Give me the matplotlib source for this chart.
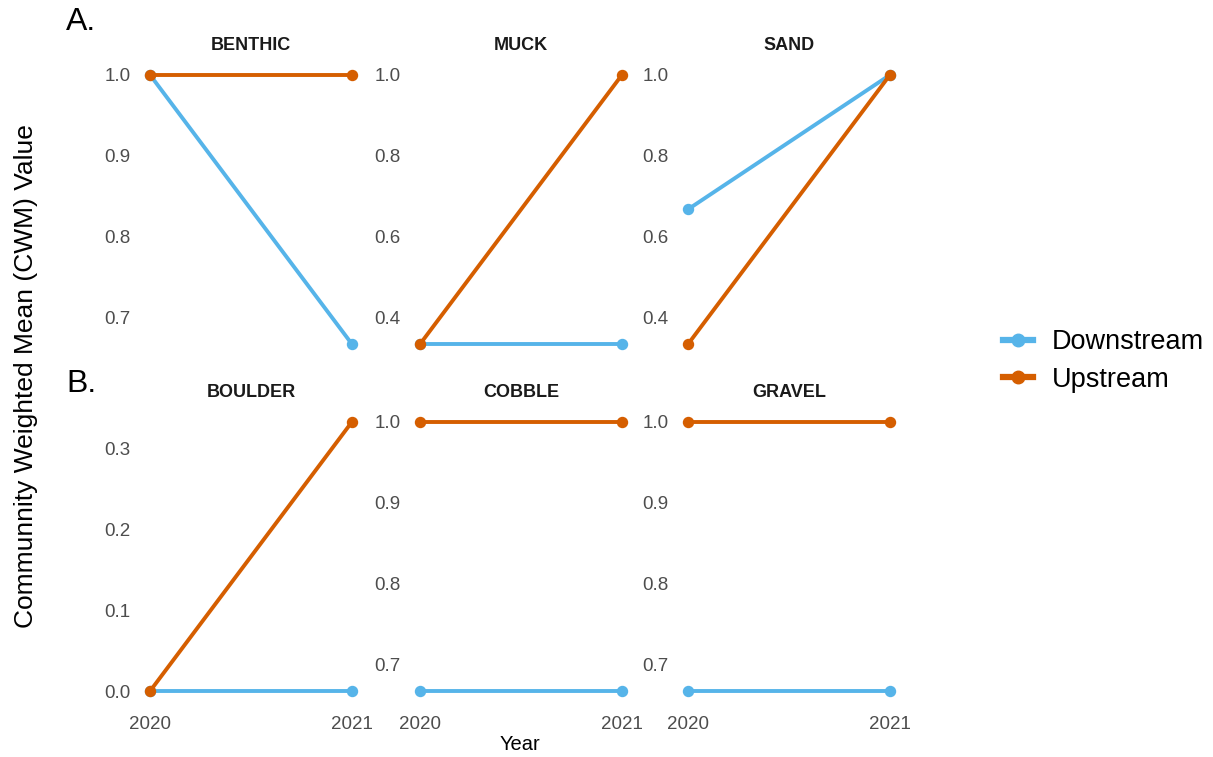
import matplotlib
matplotlib.use("Agg")
import matplotlib.pyplot as plt
from matplotlib.lines import Line2D

plt.rcParams["font.family"] = ["Liberation Sans", "DejaVu Sans"]

years = [2020, 2021]
substrates_top = ["BENTHIC", "MUCK", "SAND"]
substrates_bottom = ["BOULDER", "COBBLE", "GRAVEL"]

downstream = {
    "BENTHIC": [1.0, 0.667],
    "MUCK": [0.333, 0.333],
    "SAND": [0.667, 1.0],
    "BOULDER": [0.0, 0.0],
    "COBBLE": [0.667, 0.667],
    "GRAVEL": [0.667, 0.667],
}
upstream = {
    "BENTHIC": [1.0, 1.0],
    "MUCK": [0.333, 1.0],
    "SAND": [0.333, 1.0],
    "BOULDER": [0.0, 0.333],
    "COBBLE": [1.0, 1.0],
    "GRAVEL": [1.0, 1.0],
}
yticks = {
    "BENTHIC": [0.7, 0.8, 0.9, 1.0],
    "MUCK": [0.4, 0.6, 0.8, 1.0],
    "SAND": [0.4, 0.6, 0.8, 1.0],
    "BOULDER": [0.0, 0.1, 0.2, 0.3],
    "COBBLE": [0.7, 0.8, 0.9, 1.0],
    "GRAVEL": [0.7, 0.8, 0.9, 1.0],
}

c_down = "#56B4E9"
c_up = "#D55E00"

W, H = 1213, 757
fig = plt.figure(figsize=(W / 100, H / 100), dpi=100)

lefts = [140, 410, 678]
pw = 222
rows = [(61.5, 296), (408.5, 296)]
strip_y = [45, 393]


def px_axes(x, y, w, h):
    return fig.add_axes([x / W, 1 - (y + h) / H, w / W, h / H])


for r, names in enumerate([substrates_top, substrates_bottom]):
    for c, name in enumerate(names):
        ax = px_axes(lefts[c], rows[r][0], pw, rows[r][1])
        ax.plot(years, downstream[name], color=c_down, lw=2.8, marker="o",
                ms=7.2, solid_capstyle="butt", zorder=2)
        ax.plot(years, upstream[name], color=c_up, lw=2.8, marker="o",
                ms=7.2, solid_capstyle="butt", zorder=3)
        ax.margins(x=0.05, y=0.05)
        ax.set_xticks(years)
        ax.set_yticks(yticks[name])
        ax.set_yticklabels([f"{v:.1f}" for v in yticks[name]])
        if r == 0:
            ax.tick_params(axis="x", labelbottom=False)
        for s in ax.spines.values():
            s.set_visible(False)
        ax.tick_params(length=0, labelsize=13.5, labelcolor="#4D4D4D")
        ax.tick_params(axis="y", pad=7)
        ax.tick_params(axis="x", pad=8)
        ax.set_facecolor("none")
        fig.text((lefts[c] + pw / 2) / W, 1 - strip_y[r] / H, name,
                 fontsize=13, fontweight="bold", color="#1A1A1A",
                 ha="center", va="center")

fig.text(81 / W, 1 - 22 / H, "A.", fontsize=23, ha="center", va="center")
fig.text(81 / W, 1 - 384 / H, "B.", fontsize=23, ha="center", va="center")
fig.text(26 / W, 1 - 376 / H, "Communnity Weighted Mean (CWM) Value",
         fontsize=19, rotation=90, ha="center", va="center")
fig.text(520 / W, 1 - 745 / H, "Year", fontsize=14.5, ha="center", va="center")

handles = [
    Line2D([], [], color=c_down, lw=4.5, marker="o", ms=9),
    Line2D([], [], color=c_up, lw=4.5, marker="o", ms=9),
]
fig.legend(handles, ["Downstream", "Upstream"], loc="center left",
           bbox_to_anchor=(1003 / W, 1 - 361 / H), frameon=False,
           fontsize=19.5, borderpad=0, borderaxespad=0,
           handlelength=1.1, handletextpad=0.7, labelspacing=0.42)

fig.savefig("out.png", dpi=100)
